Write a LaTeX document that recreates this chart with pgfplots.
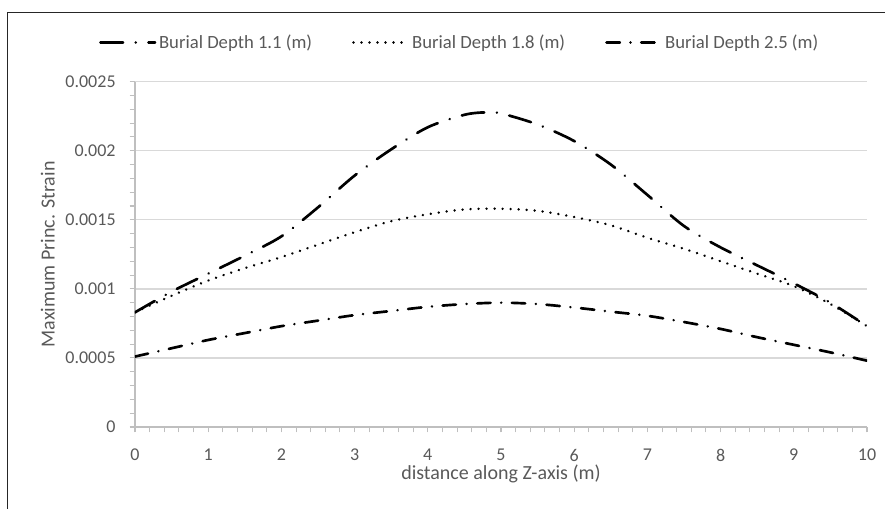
\documentclass[border=0pt]{standalone}
\usepackage{fontspec}
\setmainfont{Carlito}
\usepackage{pgfplots}
\pgfplotsset{compat=1.18}
\definecolor{cGrid}{HTML}{D9D9D9}
\definecolor{cAxis}{HTML}{BFBFBF}
\definecolor{cText}{HTML}{595959}

\begin{document}
\begin{tikzpicture}
\begin{axis}[
  at={(0,0)}, anchor=south west,
  scale only axis, width=549pt, height=259pt,
  xmin=0, xmax=10, ymin=0, ymax=0.0025,
  xtick={0,1,...,10}, ytick={0,0.0005,0.001,0.0015,0.002,0.0025},
  minor x tick num=4, minor y tick num=4,
  scaled y ticks=false,
  axis x line*=bottom, axis y line*=left,
  axis line style={draw=cAxis, line width=1pt, -},
  tick style={draw=cAxis, line width=0.8pt},
  major tick length=4pt, minor tick length=4pt,
  tick align=outside,
  ymajorgrids, grid style={draw=cGrid, line width=1pt},
  /pgf/number format/assume math mode=true,
  yticklabel style={/pgf/number format/fixed, /pgf/number format/precision=4, xshift=-7pt},
  xticklabel style={yshift=-9pt},
  ticklabel style={font=\fontsize{13.5}{15}\selectfont, text=cText},
  xlabel={distance along Z-axis (m)},
  ylabel={Maximum Princ. Strain},
  label style={font=\fontsize{15}{17}\selectfont, text=cText},
  xlabel style={at={(axis description cs:0.5,-0.135)}, anchor=center},
  ylabel style={at={(axis description cs:-0.119,0.5)}, anchor=center},
  legend columns=3,
  legend style={at={(0.444,1.114)}, anchor=center, draw=none, fill=none,
    font=\fontsize{14}{16}\selectfont, text=cText,
    /tikz/every even column/.append style={column sep=28pt}},
  legend image code/.code={\draw[#1] (0pt,0pt) -- (41pt,0pt);},
  every axis plot/.append style={black, line width=2pt, line cap=round, smooth},
]
\addplot[dash pattern=on 17pt off 9.5pt on 0.01pt off 9.5pt] coordinates {
  (0,0.00083) (0.5,0.00098) (1,0.00111) (1.5,0.00124) (2,0.00138) (2.5,0.00159)
  (3,0.00182) (3.5,0.00201) (4,0.00217) (4.5,0.00226) (4.8,0.002278) (5,0.00227)
  (5.5,0.00219) (6,0.00207) (6.5,0.0019) (7,0.00168) (7.5,0.001455) (8,0.0013)
  (8.5,0.00117) (9,0.00104) (9.5,0.0009) (10,0.00073)};
\addplot[dash pattern=on 0.01pt off 6pt] coordinates {
  (0,0.00083) (0.5,0.00095) (1,0.00106) (1.5,0.00115) (2,0.00123) (2.5,0.00132)
  (3,0.00141) (3.5,0.00149) (4,0.00154) (4.5,0.001575) (5,0.00158) (5.5,0.001565)
  (6,0.00152) (6.5,0.00146) (7,0.00137) (7.5,0.00129) (8,0.0012) (8.5,0.00111)
  (9,0.00102) (9.5,0.00089) (10,0.00073)};
\addplot[dash pattern=on 10pt off 8pt on 0.01pt off 8pt] coordinates {
  (0,0.00051) (0.5,0.00057) (1,0.00063) (1.5,0.00068) (2,0.00073) (2.5,0.00077)
  (3,0.00081) (3.5,0.00084) (4,0.00087) (4.5,0.00089) (5,0.0009) (5.5,0.00089)
  (6,0.000865) (6.5,0.000835) (7,0.000805) (7.5,0.00076) (8,0.00071) (8.5,0.00065)
  (9,0.000595) (9.5,0.00054) (10,0.00048)};
\legend{Burial Depth 1.1 (m), Burial Depth 1.8 (m), Burial Depth 2.5 (m)}
\end{axis}
\draw[black!85, line width=1pt] (-95.5pt,-80pt) -- (-95.5pt,310.7pt) -- (580pt,310.7pt);
\pgfresetboundingbox
\path[use as bounding box] (-101.25pt,-61.5pt) rectangle (562.5pt,320.25pt);
\end{tikzpicture}
\end{document}
